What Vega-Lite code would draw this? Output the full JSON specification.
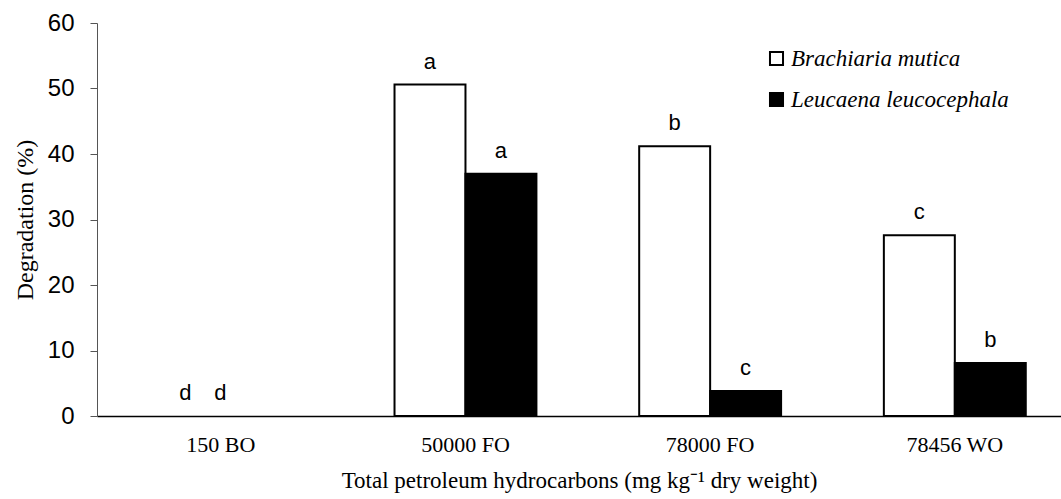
{
  "$schema": "https://vega.github.io/schema/vega-lite/v6.json",
  "width": 964,
  "height": 393,
  "autosize": {"type": "none"},
  "padding": {"left": 97, "top": 23, "right": 0, "bottom": 83},
  "background": "white",
  "config": {"view": {"stroke": null}},
  "data": {"values": [
    {"tph": "150 BO", "species": "Brachiaria mutica", "deg": 0, "sig": "d"},
    {"tph": "150 BO", "species": "Leucaena leucocephala", "deg": 0, "sig": "d"},
    {"tph": "50000 FO", "species": "Brachiaria mutica", "deg": 50.6, "sig": "a"},
    {"tph": "50000 FO", "species": "Leucaena leucocephala", "deg": 37.0, "sig": "a"},
    {"tph": "78000 FO", "species": "Brachiaria mutica", "deg": 41.2, "sig": "b"},
    {"tph": "78000 FO", "species": "Leucaena leucocephala", "deg": 3.8, "sig": "c"},
    {"tph": "78456 WO", "species": "Brachiaria mutica", "deg": 27.6, "sig": "c"},
    {"tph": "78456 WO", "species": "Leucaena leucocephala", "deg": 8.1, "sig": "b"}
  ]},
  "encoding": {
    "x": {"field": "tph", "type": "nominal", "sort": null,
      "scale": {"domain": ["150 BO", "50000 FO", "78000 FO", "78456 WO"], "paddingInner": 0.42, "paddingOuter": 0.18, "align": 0.6},
      "axis": {"title": "Total petroleum hydrocarbons (mg kg⁻¹ dry weight)", "labelAngle": 0,
        "labelFont": "Liberation Serif", "labelFontSize": 22, "labelColor": "black", "labelPadding": 18,
        "titleFont": "Liberation Serif", "titleFontSize": 23, "titleFontWeight": "normal", "titleColor": "black", "titlePadding": 14,
        "ticks": false, "domainColor": "black", "domainWidth": 1.3}},
    "xOffset": {"field": "species", "type": "nominal", "scale": {"domain": ["Brachiaria mutica", "Leucaena leucocephala"]}},
    "y": {"field": "deg", "type": "quantitative",
      "scale": {"domain": [0, 60], "nice": false},
      "axis": {"title": "Degradation (%)", "values": [0,10,20,30,40,50,60], "grid": false,
        "labelFont": "Liberation Sans", "labelFontSize": 24, "labelColor": "black", "labelPadding": 16,
        "tickSize": 7, "tickColor": "#555", "domainColor": "#555",
        "titleFont": "Liberation Serif", "titleFontSize": 24, "titleFontWeight": "normal", "titleColor": "black", "titlePadding": 10}}
  },
  "layer": [
    {
      "transform": [{"filter": "datum.deg > 0"}],
      "mark": {"type": "bar", "stroke": "black", "strokeWidth": 2},
      "encoding": {
        "fill": {"field": "species", "type": "nominal",
          "scale": {"domain": ["Brachiaria mutica", "Leucaena leucocephala"], "range": ["white", "black"]},
          "legend": {"title": null, "orient": "none", "legendX": 668, "legendY": 24,
            "symbolType": "square", "symbolSize": 170, "symbolStrokeColor": "black", "symbolStrokeWidth": 2,
            "labelFont": "Liberation Serif", "labelFontStyle": "italic", "labelFontSize": 23, "labelColor": "black",
            "labelLimit": 0, "rowPadding": 17, "labelOffset": 3}}
      }
    },
    {
      "transform": [{"filter": "datum.tph != '150 BO' || datum.species == 'Brachiaria mutica'"}],
      "mark": {"type": "text", "baseline": "bottom", "dy": -11, "font": "Liberation Sans", "fontSize": 22, "color": "black"},
      "encoding": {"text": {"field": "sig"}}
    },
    {
      "transform": [{"filter": "datum.tph == '150 BO' && datum.species == 'Leucaena leucocephala'"}],
      "mark": {"type": "text", "baseline": "bottom", "dy": -11, "dx": -36, "font": "Liberation Sans", "fontSize": 22, "color": "black"},
      "encoding": {"text": {"field": "sig"}}
    }
  ]
}
